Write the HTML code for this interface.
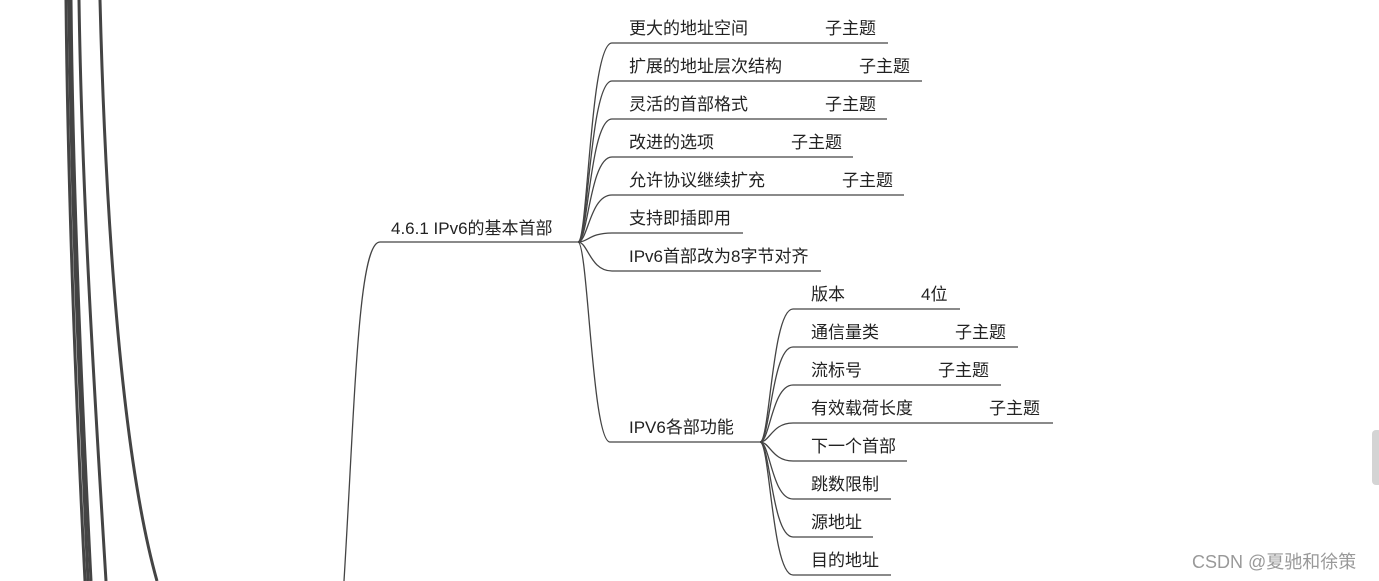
<!DOCTYPE html>
<html><head><meta charset="utf-8"><style>
html,body{margin:0;padding:0;background:#fff;width:1379px;height:581px;overflow:hidden}
svg{position:absolute;left:0;top:0}
text{font-family:"Liberation Sans","Noto Sans CJK SC",sans-serif;font-size:17px;fill:#222}
</style></head><body>
<svg width="1379" height="581" viewBox="0 0 1379 581">
<g fill="none" stroke="#444" stroke-width="3">
<path d="M66,0 C68,200 76,400 85,581"/>
<path d="M69,0 C71,200 80,400 88,581"/>
<path d="M71,0 C73,200 82,400 91,581"/>
<path d="M79,0 C82,200 95,400 106,581"/>
<path d="M100,0 C105,200 120,450 157,581"/>
</g>
<g fill="none" stroke="#444" stroke-width="1.3">
<path d="M344,581 C355,400 358,242 380,242 L578,242"/>
<path d="M578,242 C588,242 590,43 612,43 L888,43"/>
<path d="M578,242 C588,242 590,81 612,81 L922,81"/>
<path d="M578,242 C588,242 590,119 612,119 L887,119"/>
<path d="M578,242 C588,242 590,157 612,157 L853,157"/>
<path d="M578,242 C588,242 590,195 612,195 L904,195"/>
<path d="M578,242 C588,242 590,233 612,233 L743,233"/>
<path d="M578,242 C588,242 590,271 612,271 L821,271"/>
<path d="M578,242 C588,242 592,442 610,442 L760,442"/>
<path d="M760,442 C770,442 772,309 793,309 L960,309"/>
<path d="M760,442 C770,442 772,347 793,347 L1018,347"/>
<path d="M760,442 C770,442 772,385 793,385 L1001,385"/>
<path d="M760,442 C770,442 772,423 793,423 L1053,423"/>
<path d="M760,442 C770,442 772,461 793,461 L907,461"/>
<path d="M760,442 C770,442 772,499 793,499 L891,499"/>
<path d="M760,442 C770,442 772,537 793,537 L873,537"/>
<path d="M760,442 C770,442 772,575 793,575 L891,575"/>
</g>
<text x="391" y="234">4.6.1 IPv6的基本首部</text>
<text x="629" y="34">更大的地址空间</text><text x="825" y="34">子主题</text>
<text x="629" y="72">扩展的地址层次结构</text><text x="859" y="72">子主题</text>
<text x="629" y="110">灵活的首部格式</text><text x="825" y="110">子主题</text>
<text x="629" y="148">改进的选项</text><text x="791" y="148">子主题</text>
<text x="629" y="186">允许协议继续扩充</text><text x="842" y="186">子主题</text>
<text x="629" y="224">支持即插即用</text>
<text x="629" y="262">IPv6首部改为8字节对齐</text>
<text x="629" y="433">IPV6各部功能</text>
<text x="811" y="300">版本</text><text x="921" y="300">4位</text>
<text x="811" y="338">通信量类</text><text x="955" y="338">子主题</text>
<text x="811" y="376">流标号</text><text x="938" y="376">子主题</text>
<text x="811" y="414">有效载荷长度</text><text x="989" y="414">子主题</text>
<text x="811" y="452">下一个首部</text>
<text x="811" y="490">跳数限制</text>
<text x="811" y="528">源地址</text>
<text x="811" y="566">目的地址</text>
<rect x="1372" y="430" width="10" height="55" rx="4" fill="#d4d4d4"/>
<text x="1192" y="568" style="fill:#999;font-size:18px">CSDN @夏驰和徐策</text>
</svg>
</body></html>
